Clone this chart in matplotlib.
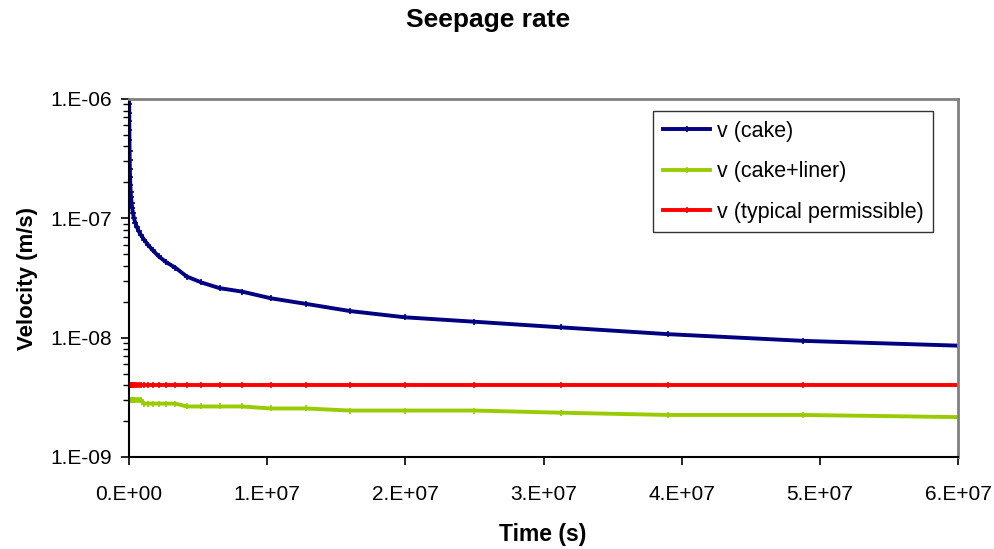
import matplotlib
matplotlib.use('Agg')
import matplotlib.pyplot as plt
from matplotlib.ticker import FixedLocator, LogLocator, NullFormatter

plt.rcParams['font.family'] = ['Liberation Sans', 'DejaVu Sans']

# tempo (s)
tempo = [0, 1.3e4, 1.6e4, 2.0e4, 2.5e4, 3.1e4, 3.8e4, 4.8e4, 6.0e4, 7.5e4,
         9.4e4, 1.2e5, 1.5e5, 1.8e5, 2.3e5, 2.9e5, 3.6e5, 4.5e5, 5.6e5, 7.0e5,
         8.8e5, 1.1e6, 1.37e6, 1.72e6, 2.15e6, 2.68e6, 3.36e6, 4.19e6, 5.24e6, 6.55e6,
         8.19e6, 1.024e7, 1.28e7, 1.6e7, 2.0e7, 2.5e7, 3.125e7, 3.9e7, 4.88e7, 6.1e7]

v_cake = [1.0e-6, 9.0e-7, 7.7e-7, 6.5e-7, 5.5e-7, 4.5e-7, 3.7e-7, 3.1e-7, 2.6e-7, 2.2e-7,
          1.9e-7, 1.65e-7, 1.5e-7, 1.35e-7, 1.22e-7, 1.1e-7, 1.0e-7, 9.2e-8, 8.5e-8, 7.8e-8,
          7.2e-8, 6.6e-8, 6.0e-8, 5.4e-8, 4.8e-8, 4.3e-8, 3.85e-8, 3.25e-8, 2.9e-8, 2.6e-8,
          2.43e-8, 2.14e-8, 1.92e-8, 1.67e-8, 1.48e-8, 1.36e-8, 1.22e-8, 1.07e-8, 9.4e-9, 8.5e-9]

v_liner = [3.0e-9] * 21 + [2.8e-9] * 6 + [2.65e-9] * 4 + [2.55e-9] * 2 + \
          [2.45e-9] * 3 + [2.35e-9, 2.25e-9, 2.25e-9, 2.15e-9]

v_permissivel = [4.0e-9] * len(tempo)

x_ticks = [0, 1e7, 2e7, 3e7, 4e7, 5e7, 6e7]
x_labels = ['0.E+00', '1.E+07', '2.E+07', '3.E+07', '4.E+07', '5.E+07', '6.E+07']
y_ticks = [1e-9, 1e-8, 1e-7, 1e-6]
y_labels = ['1.E-09', '1.E-08', '1.E-07', '1.E-06']

fig = plt.figure(figsize=(9.94, 5.49), dpi=100)
ax = fig.add_axes([0.1298, 0.1676, 0.834, 0.6521])

ax.plot(tempo, v_cake, color='#000080', linewidth=2.8, marker='+', markersize=4, markeredgewidth=1.2, label='v (cake)')
ax.plot(tempo, v_liner, color='#99CC00', linewidth=2.8, marker='+', markersize=4, markeredgewidth=1.2, label='v (cake+liner)')
ax.plot(tempo, v_permissivel, color='#FF0000', linewidth=2.8, marker='+', markersize=4, markeredgewidth=1.2, label='v (typical permissible)')

ax.set_yscale('log')
ax.set_xlim(0, 6e7)
ax.set_ylim(1e-9, 1e-6)

ax.xaxis.set_major_locator(FixedLocator(x_ticks))
ax.set_xticklabels(x_labels)
ax.yaxis.set_major_locator(FixedLocator(y_ticks))
ax.set_yticklabels(y_labels)
ax.yaxis.set_minor_locator(LogLocator(base=10, subs=range(2, 10)))
ax.yaxis.set_minor_formatter(NullFormatter())

ax.tick_params(axis='both', which='major', labelsize=15, direction='out', length=6, width=1.2, color='black')
ax.tick_params(axis='y', which='minor', direction='out', length=4, width=1, color='black')
ax.tick_params(axis='x', which='major', pad=14)
ax.tick_params(axis='y', which='major', pad=6)

ax.spines['left'].set_color('black')
ax.spines['bottom'].set_color('black')
ax.spines['left'].set_linewidth(1.5)
ax.spines['bottom'].set_linewidth(1.5)
ax.spines['top'].set_color('#808080')
ax.spines['right'].set_color('#808080')
ax.spines['top'].set_linewidth(2)
ax.spines['right'].set_linewidth(2)

leg = ax.legend(loc='upper right', bbox_to_anchor=(0.970, 0.966), fontsize=15.5, frameon=True, fancybox=False,
                edgecolor='black', handlelength=2.2, handletextpad=0.3, labelspacing=0.9, borderpad=0.45,
                borderaxespad=0)
leg.get_frame().set_linewidth(1.0)

fig.text(488 / 994, 1 - 20 / 549, 'Seepage rate', ha='center', va='center', fontsize=19, fontweight='bold')
fig.text(28 / 994, 1 - 278 / 549, 'Velocity (m/s)', ha='center', va='center', rotation=90, fontsize=16, fontweight='bold')
fig.text(543 / 994, 1 - 535 / 549, 'Time (s)', ha='center', va='center', fontsize=16.5, fontweight='bold')

fig.savefig('out.png', dpi=100)
